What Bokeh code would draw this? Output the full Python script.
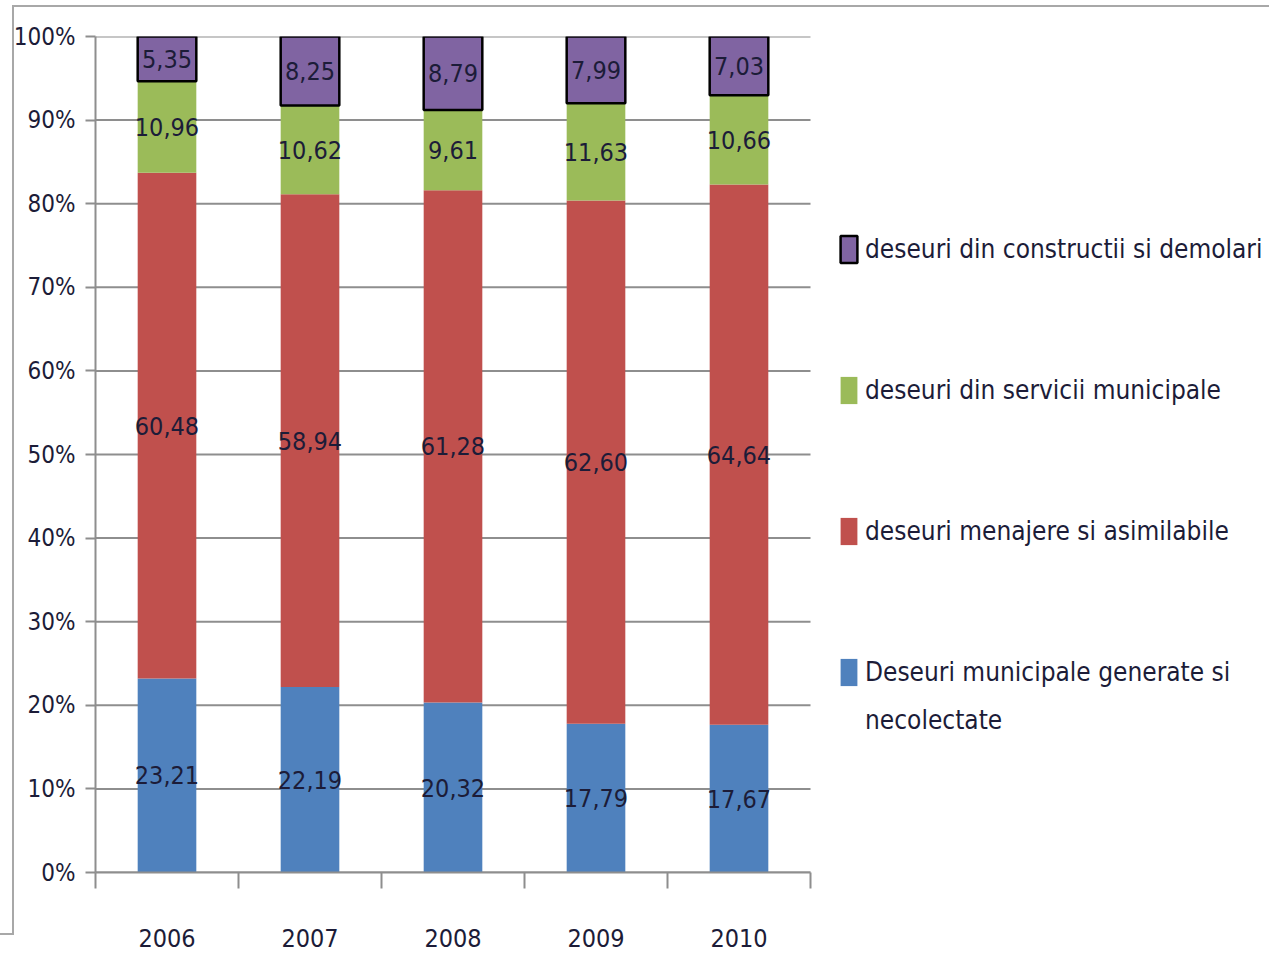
import numpy as np
from bokeh.plotting import figure
from bokeh.models import (Range1d, FixedTicker, ColumnDataSource, LabelSet, Legend, LegendItem)
from bokeh.core.properties import value
from bokeh.embed import file_html
from bokeh.resources import INLINE

years = ["2006", "2007", "2008", "2009", "2010"]
necolectate = [23.21, 22.19, 20.32, 17.79, 17.67]
menajere = [60.48, 58.94, 61.28, 62.60, 64.64]
servicii = [10.96, 10.62, 9.61, 11.63, 10.66]
constructii = [5.35, 8.25, 8.79, 7.99, 7.03]

series_names = ["Deseuri municipale generate si\nnecolectate",
                "deseuri menajere si asimilabile",
                "deseuri din servicii municipale",
                "deseuri din constructii si demolari"]
colors = ["#4F81BD", "#C0504D", "#9BBB59", "#8064A2"]
y_ticks = list(range(0, 101, 10))

FONT = "DejaVu Sans Condensed, DejaVu Sans, sans-serif"
TXT = "#1c1c38"
GRID = "#8e8e8e"

W, H = 1269, 957
LEFT, TOP, BOTTOM = 95, 36, 85
CAT_PX = 143  # pixel width of one year slot

centers = np.arange(len(years)) + 0.5
bounds = np.arange(len(years) + 1).astype(float)
keys = ["a", "b", "c", "d"]
data = dict(x=centers, a=necolectate, b=menajere, c=servicii, d=constructii)
src = ColumnDataSource(data)

x_end = (W - LEFT) / CAT_PX
p = figure(width=W, height=H, output_backend="svg", toolbar_location=None,
           x_range=Range1d(0, x_end), y_range=Range1d(0, 100),
           min_border_left=LEFT, min_border_right=0, min_border_top=TOP, min_border_bottom=BOTTOM)
p.outline_line_color = None
p.background_fill_color = "white"
p.border_fill_color = "white"

# horizontal gridlines limited to the category area
n = len(years)
p.segment(x0=[0] * len(y_ticks), x1=[n] * len(y_ticks), y0=y_ticks, y1=y_ticks,
          line_color=GRID, line_width=2)

renderers = p.vbar_stack(keys, x="x", width=0.41, source=src, fill_color=colors,
                         line_color=[None, None, None, "black"], line_width=[0, 0, 0, 2.5])

# axes
p.xaxis.bounds = (0, n)
p.xaxis.ticker = FixedTicker(ticks=list(centers), minor_ticks=list(bounds))
p.xaxis.major_label_overrides = {float(c): y for c, y in zip(centers, years)}
p.xaxis.major_tick_out = 0
p.xaxis.major_tick_in = 0
p.xaxis.minor_tick_out = 16
p.xaxis.minor_tick_in = 0
p.xaxis.minor_tick_line_color = GRID
p.xaxis.minor_tick_line_width = 2
p.xaxis.major_label_standoff = 40
p.yaxis.ticker = FixedTicker(ticks=y_ticks)
p.yaxis.major_label_overrides = {t: f"{t}%" for t in y_ticks}
p.yaxis.major_tick_out = 10
p.yaxis.major_tick_in = 0
p.yaxis.minor_tick_line_color = None
p.yaxis.major_label_standoff = 10
for ax in (p.xaxis, p.yaxis):
    ax.axis_line_color = GRID
    ax.axis_line_width = 2
    ax.major_tick_line_color = GRID
    ax.major_tick_line_width = 2
    ax.major_label_text_font = FONT
    ax.major_label_text_color = TXT
p.yaxis.major_label_text_font_size = "24px"
p.xaxis.major_label_text_font_size = "25px"
p.xgrid.grid_line_color = None
p.ygrid.grid_line_color = None

# data labels
lx, ly, lt = [], [], []
base = np.zeros(n)
for k in keys:
    vals = np.array(data[k])
    for i, v in enumerate(vals):
        lx.append(centers[i])
        ly.append(base[i] + v / 2)
        lt.append(f"{v:.2f}".replace(".", ","))
    base = base + vals
lsrc = ColumnDataSource(dict(x=lx, y=ly, t=lt))
p.add_layout(LabelSet(x="x", y="y", text="t", source=lsrc, text_align="center",
                      text_baseline="middle", text_font=value(FONT), text_font_size="25px",
                      text_color=TXT))

legend_style = dict(border_line_color=None, background_fill_alpha=0, padding=0, margin=0,
                    glyph_width=21, glyph_height=34, label_height=30,
                    label_text_font=FONT, label_text_font_size="26px", label_text_color=TXT,
                    label_standoff=6)
first_lines = [s.split("\n")[0] for s in series_names]
extra_lines = [s.split("\n")[1] for s in series_names if "\n" in s]
items = [LegendItem(label=first_lines[i], renderers=[renderers[i]]) for i in range(3, -1, -1)]
p.add_layout(Legend(items=items, location=(743, 183), spacing=107, **legend_style))

# continuation line of the wrapped legend label (invisible swatch)
ghost = p.vbar(x=[], top=[], width=0.1, fill_alpha=0, line_alpha=0)
p.add_layout(Legend(items=[LegendItem(label=extra_lines[0], renderers=[ghost])],
                    location=(743, 135), **legend_style))

html = file_html(p, INLINE)
frame = ('<div style="position:absolute;left:12px;top:5px;right:0;height:928px;'
         'border-top:2px solid #a8a8a8;border-left:2px solid #a8a8a8;pointer-events:none;"></div>'
         '<div style="position:absolute;left:0;top:933px;width:12px;height:0;'
         'border-top:2px solid #a8a8a8;pointer-events:none;"></div>')
html = html.replace("</body>", frame + "</body>")
open("out.html", "w").write(html)
